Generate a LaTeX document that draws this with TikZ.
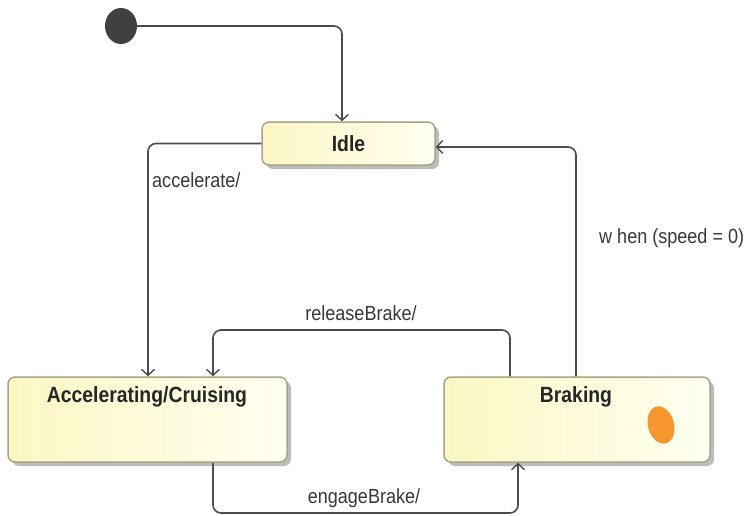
\documentclass[tikz,border=0pt]{standalone}
\usepackage{fontspec}
\setmainfont{Liberation Sans}
\newfontfamily\narrowsans[FakeStretch=0.88]{Liberation Sans}
\usetikzlibrary{arrows.meta,shadows}

\definecolor{lineg}{HTML}{4C4C4C}
\definecolor{stateedge}{HTML}{A6A684}
\definecolor{stateleft}{HTML}{FBF7C4}
\definecolor{stateright}{HTML}{FFFFF0}
\definecolor{shadowg}{HTML}{ADADAD}
\definecolor{blob}{HTML}{F7962D}

\tikzset{
  state/.style={draw=stateedge, line width=1.5pt, rounded corners=7pt,
    left color=stateleft, right color=stateright, shading angle=90,
    drop shadow={shadow xshift=4pt, shadow yshift=-4pt, fill=shadowg, opacity=0.8},
    inner sep=0pt},
  title/.style={font=\narrowsans\bfseries\fontsize{22}{25}\selectfont, text=black!85, inner sep=0pt},
  conn/.style={draw=lineg, line width=1.6pt, rounded corners=8pt,
    -{Straight Barb[length=6pt,width=13pt,line width=1.4pt]}},
  guard/.style={font=\narrowsans\fontsize{20.5}{23}\selectfont, text=black!78, inner sep=0pt},
}

\begin{document}
\begin{tikzpicture}[x=1pt,y=-1pt]
\useasboundingbox (0,0) rectangle (751,515);

% initial pseudo-state
\fill[black!75] (121,26) ellipse [x radius=16pt, y radius=18pt];
\coordinate (init) at (137,26);

% states
\node[state, minimum width=173pt, minimum height=43pt] (idle) at (348.5,143.5) {};
\node[title] (idleT) at (idle.center) {Idle};

\node[state, minimum width=279pt, minimum height=85pt] (acc) at (147.5,419.5) {};
\node[title, anchor=center] (accT) at (147,397) {Accelerating/Cruising};

\node[state, minimum width=266pt, minimum height=85pt] (brk) at (577,419.5) {};
\node[title, anchor=center] (brkT) at (576,397) {Braking};

% marker inside Braking
\fill[blob, rotate around={15:(661,425)}] (661,425) ellipse [x radius=13pt, y radius=19pt];

% helper columns and rows for the orthogonal routes
\coordinate (xinit) at (342,0);
\coordinate (xacc) at (148,0);
\coordinate (xrel) at (510,0);
\coordinate (xrelin) at (213,0);
\coordinate (xeng) at (518,0);
\coordinate (xwhen) at (576,0);
\coordinate (yrel) at (0,330);
\coordinate (yeng) at (0,513);
\coordinate (ywhen) at (0,147);

% transitions
\draw[conn] (init) -| (idle.north -| xinit);
\draw[conn] (idle.west) -| (acc.north -| xacc);
\draw[conn] (brk.north -| xrel) -- (yrel -| xrel) -| (acc.north -| xrelin);
\draw[conn] (acc.south -| xrelin) -- (yeng -| xrelin) -| (brk.south -| xeng);
\draw[conn] (brk.north -| xwhen) -- (ywhen -| xwhen) -- (ywhen -| idle.east);

% guards and triggers
\node[guard, anchor=west] (lblAcc) at (152,180) {accelerate/};
\node[guard] (lblRel) at (361,313) {releaseBrake/};
\node[guard] (lblEng) at (364,498) {engageBrake/};
\node[guard, anchor=west] (lblWhen) at (599,238) {w hen (speed = 0)};
\end{tikzpicture}
\end{document}
